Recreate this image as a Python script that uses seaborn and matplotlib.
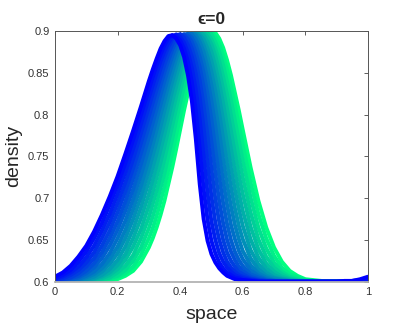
import numpy as np, pandas as pd
import matplotlib
matplotlib.use('Agg')
import matplotlib.pyplot as plt
import seaborn as sns

space = [0, 0.025, 0.05, 0.075, 0.1, 0.125, 0.15, 0.175, 0.2, 0.225, 0.25, 0.275,
         0.3, 0.3125, 0.325, 0.3375, 0.35, 0.3625, 0.375, 0.3875, 0.4, 0.4125, 0.425, 0.4375,
         0.45, 0.4625, 0.475, 0.4875, 0.5, 0.5125, 0.525, 0.5375, 0.55, 0.5625, 0.575, 0.5875,
         0.6, 0.625, 0.65, 0.675, 0.7, 0.725, 0.75, 0.775, 0.8, 0.825, 0.85, 0.875, 0.9,
         0.925, 0.95, 0.975, 1.0]

# density above the 0.6 floor, in thousandths, one list per time step (0 = first, green)
rise_00 = [0,0,0,0,0,0,1,2,3,7,13,24,41,52,65,80,97,117,137,159,182,205,226,247,265,280,291,298,300,298,291,280,265,247,226,205,182,137,97,65,41,24,13,7,3,2,1,0,0,0,0,0,0]
rise_01 = [0,0,0,0,0,0,1,2,5,10,18,32,52,64,79,96,114,134,155,176,198,220,240,259,275,287,295,299,299,293,284,270,253,233,211,187,164,119,81,52,31,17,9,5,2,1,0,0,0,0,0,0,0]
rise_02 = [0,0,0,0,0,1,2,4,7,14,25,41,64,78,94,112,130,151,171,193,214,234,253,269,283,293,298,299,296,287,275,259,239,217,193,169,145,101,65,40,23,12,6,3,1,1,0,0,0,0,0,0,0]
rise_03 = [0,0,0,0,0,1,3,5,11,19,32,52,77,93,109,127,147,167,187,208,228,247,264,278,289,296,299,297,290,279,264,245,224,199,174,149,125,83,51,30,17,9,4,2,1,0,0,0,0,0,0,0,0]
rise_04 = [0,0,0,0,1,2,4,8,15,26,42,63,91,107,125,143,162,182,202,222,240,258,273,285,294,298,298,293,284,270,252,230,206,180,154,128,105,66,39,22,12,6,3,1,1,0,0,0,0,0,0,0,0]
rise_05 = [0,0,0,1,1,3,6,11,20,33,52,76,105,122,140,158,177,196,216,234,252,268,281,291,297,298,295,287,275,258,237,213,186,159,132,107,85,51,29,16,8,4,2,1,0,0,0,0,0,0,0,0,0]
rise_06 = [0,0,0,1,2,4,8,15,26,42,63,89,120,137,154,173,191,210,229,246,262,276,288,295,298,296,290,279,264,244,220,193,165,136,110,87,67,38,21,11,5,3,1,0,0,0,0,0,0,0,0,0,0]
rise_07 = [0,0,1,1,3,6,12,21,34,52,75,102,134,151,168,186,205,223,240,257,272,284,292,297,297,293,283,269,251,228,201,171,141,113,88,67,51,28,15,7,4,2,1,0,0,0,0,0,0,0,0,0,0]
rise_08 = [0,0,1,2,5,9,16,27,42,62,87,115,147,164,182,200,217,235,251,267,280,289,296,297,295,287,275,257,235,208,178,146,116,90,68,51,37,20,10,5,2,1,0,0,0,0,0,0,0,0,0,0,0]
rise_09 = [0,1,2,3,7,12,21,34,52,73,99,128,160,177,195,212,229,246,261,275,286,294,297,296,290,279,263,242,216,186,152,120,92,68,51,37,27,14,7,3,1,1,0,0,0,0,0,0,0,0,0,0,0]
rise_10 = [0,1,2,5,10,17,28,43,62,85,111,141,173,190,207,224,240,256,270,282,291,296,296,292,283,269,250,224,194,159,125,94,69,50,36,26,19,9,5,2,1,0,0,0,0,0,0,0,0,0,0,0,0]
rise_11 = [1,2,4,7,13,22,35,52,72,96,124,154,186,202,219,235,251,265,278,288,294,296,294,287,274,257,233,202,167,130,96,70,50,36,26,18,13,6,3,1,1,0,0,0,0,0,0,0,0,0,0,0,1]
rise_12 = [1,3,5,10,18,28,43,61,83,108,136,166,198,214,230,245,260,273,284,292,296,295,290,279,263,241,211,175,135,99,71,50,35,25,18,12,9,4,2,1,0,0,0,0,0,0,0,0,0,0,0,1,1]
rise_13 = [2,4,8,14,23,35,52,71,94,119,147,178,209,225,240,255,269,281,290,295,296,292,283,269,249,221,184,142,102,71,50,35,24,17,12,8,6,3,1,0,0,0,0,0,0,0,0,0,0,0,0,1,2]
rise_14 = [3,6,11,18,29,43,61,81,105,131,159,189,220,235,250,264,276,286,293,296,293,286,274,256,230,195,150,106,72,50,34,24,17,12,8,6,4,2,1,0,0,0,0,0,0,0,0,0,0,0,1,1,3]
rise_15 = [4,8,14,24,36,52,70,92,116,142,170,200,230,245,259,272,283,291,295,294,289,279,263,239,205,160,111,74,49,34,23,16,11,8,5,4,2,1,0,0,0,0,0,0,0,0,0,0,0,0,1,2,4]
rise_16 = [6,11,19,30,43,60,80,102,126,153,181,210,240,254,267,279,288,294,295,291,283,269,247,216,171,117,75,49,33,23,16,11,7,5,3,2,2,1,0,0,0,0,0,0,0,0,0,0,0,1,1,3,6]

profiles = [rise_00, rise_01, rise_02, rise_03, rise_04, rise_05, rise_06, rise_07, rise_08,
            rise_09, rise_10, rise_11, rise_12, rise_13, rise_14, rise_15, rise_16]

x_ticks = [0, 0.2, 0.4, 0.6, 0.8, 1]
x_ticklabels = ['0', '0.2', '0.4', '0.6', '0.8', '1']
y_ticks = [0.6, 0.65, 0.7, 0.75, 0.8, 0.85, 0.9]
y_ticklabels = ['0.6', '0.65', '0.7', '0.75', '0.8', '0.85', '0.9']

# long table for seaborn
frames = []
for step, rise in enumerate(profiles):
    frames.append(pd.DataFrame({
        'space': space,
        'density': 0.6 + np.array(rise) / 1000,
        'step': step,
    }))
df = pd.concat(frames, ignore_index=True)

sns.set_theme(style='white')
plt.rcParams['font.family'] = ['Liberation Sans', 'DejaVu Sans']

fig = plt.figure(figsize=(4.07, 3.25), dpi=100)
ax = fig.add_axes([0.135, 0.1332, 0.769, 0.7714])

# first step green, last step blue (drawn last, on top)
sns.lineplot(data=df, x='space', y='density', hue='step', palette='winter_r',
             legend=False, ax=ax, sort=False, estimator=None, linewidth=2.8)

ax.set_xlim(0, 1)
ax.set_ylim(0.6, 0.9)
ax.set_xticks(x_ticks)
ax.set_xticklabels(x_ticklabels)
ax.set_yticks(y_ticks)
ax.set_yticklabels(y_ticklabels)
ax.tick_params(direction='in', length=3, width=0.6, top=True, right=True,
               color='#444444', labelcolor='#333333', labelsize=8, pad=4)
for side in ['left', 'right', 'top']:
    ax.spines[side].set_color('#555555')
    ax.spines[side].set_linewidth(0.7)
ax.spines['bottom'].set_color('#b3b3b3')
ax.spines['bottom'].set_linewidth(1.3)

ax.set_xlabel('space', fontsize=14, color='#262626', labelpad=6)
ax.set_ylabel('density', fontsize=14, color='#262626', labelpad=4)
ax.set_title('ϵ=0', fontsize=12.5, fontweight='bold', pad=5)

fig.savefig('out.png', dpi=100)
